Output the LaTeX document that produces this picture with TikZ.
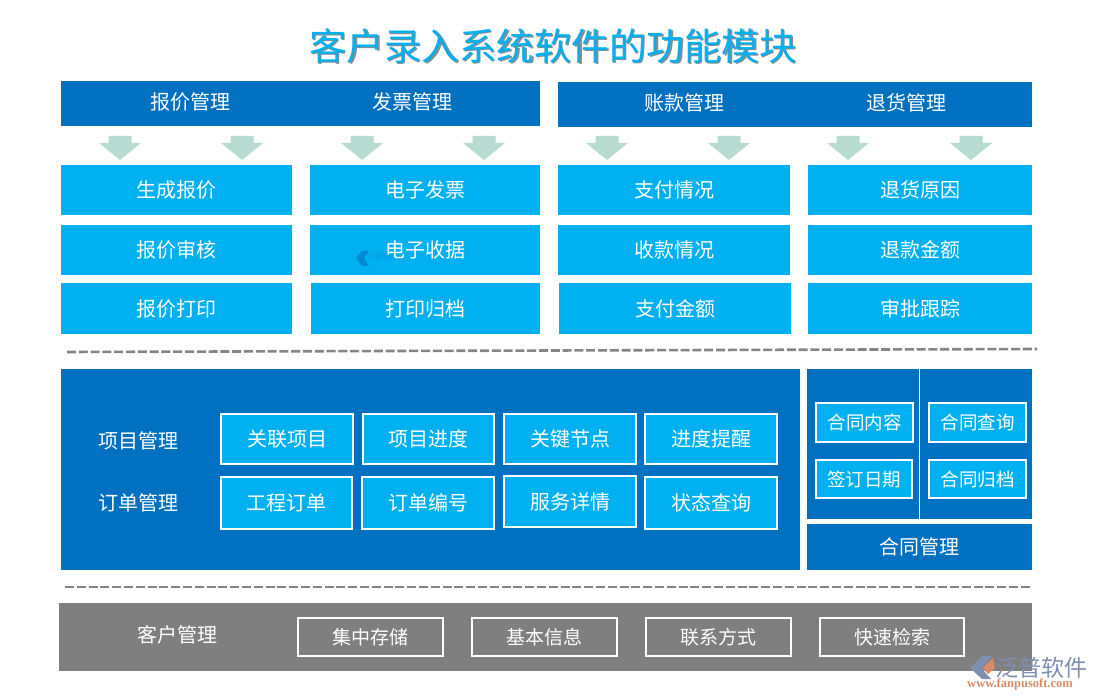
\documentclass[tikz,border=0pt]{standalone}
\usepackage{fontspec}
\setmainfont{Noto Sans CJK SC}
\newfontfamily\latinf{Liberation Serif}
\definecolor{deepblue}{HTML}{0070C0}
\definecolor{skyblue}{HTML}{00B0F0}
\definecolor{arrowgreen}{HTML}{B7DBD0}
\definecolor{midgray}{HTML}{7F7F7F}
\definecolor{dashgray}{HTML}{858585}
\definecolor{logoblue}{HTML}{7F8FB0}
\definecolor{logoorange}{HTML}{D98A68}
\tikzset{
  flat/.style={inner sep=0pt,outer sep=0pt,text=white,font=\fontsize{20}{24}\selectfont,anchor=north west},
  deep/.style={flat,fill=deepblue},
  sky/.style={flat,fill=skyblue},
  gray box/.style={flat,fill=midgray},
  framed/.style={flat,fill=skyblue,draw=white,line width=1.2pt},
  outlined/.style={flat,draw=white,line width=1.2pt,font=\fontsize{19}{23}\selectfont},
  caption/.style={inner sep=0pt,text=white,font=\fontsize{20}{24}\selectfont},
  small/.style={font=\fontsize{18.5}{22}\selectfont},
  dashrule/.style={draw=dashgray,line width=2.6pt,dash pattern=on 9pt off 2.8pt},
  downarrow/.style={fill=arrowgreen,draw=none},
}
\newcommand{\bx}[7][]{%
  \pgfmathsetlengthmacro{\bw}{#5-#3}\pgfmathsetlengthmacro{\bh}{#6-#4}%
  \node[#1,minimum width=\bw,minimum height=\bh] (#2) at (#3,#4) {#7};}
\newcommand{\darrow}[2]{%
  \fill[downarrow] (#1-11.5,#2) -- (#1+11.5,#2) -- (#1+11.5,#2+7) -- (#1+21,#2+7)
    -- (#1,#2+24) -- (#1-21,#2+7) -- (#1-11.5,#2+7) -- cycle;}
\begin{document}
\begin{tikzpicture}[x=1pt,y=-1pt]
\useasboundingbox (0,0) rectangle (1100,700);
\fill[white] (0,0) rectangle (1100,700);
% title
\node[inner sep=0pt,text=black!45,font=\fontsize{37.5}{42}\selectfont] (titleshadow) at (554.5,47.5) {客户录入系统软件的功能模块};
\node[inner sep=0pt,text=skyblue,font=\fontsize{37.5}{42}\selectfont] (title) at (553,46) {客户录入系统软件的功能模块};
% headers
\bx[deep]{headL}{61}{81}{540}{126}{}
\bx[deep]{headR}{558}{82}{1032}{127}{}
\node[caption] (h1) at (190,102) {报价管理};
\node[caption] (h2) at (412,102) {发票管理};
\node[caption] (h3) at (684,103) {账款管理};
\node[caption] (h4) at (906,103) {退货管理};
% arrows
\darrow{120}{136}\darrow{242}{136}\darrow{362}{136}\darrow{484}{136}
\darrow{607}{136}\darrow{729}{136}\darrow{848}{136}\darrow{971}{136}
% function boxes
\bx[sky]{a1}{61}{165}{292}{215}{生成报价}
\bx[sky]{a2}{61}{225}{292}{275}{报价审核}
\bx[sky]{a3}{61}{283}{292}{334}{报价打印}
\bx[sky]{b1}{310}{165}{540}{215}{电子发票}
\bx[sky]{b2}{310}{225}{540}{275}{}
\bx[sky]{b3}{311}{283}{540}{334}{打印归档}
\bx[sky]{c1}{558}{165}{790}{215}{支付情况}
\bx[sky]{c2}{558}{225}{790}{275}{收款情况}
\bx[sky]{c3}{559}{283}{791}{334}{支付金额}
\bx[sky]{d1}{808}{165}{1032}{215}{退货原因}
\bx[sky]{d2}{808}{225}{1032}{275}{退款金额}
\bx[sky]{d3}{808}{283}{1032}{334}{审批跟踪}
% watermark
\fill[deepblue!60!skyblue] (356,258) -- (362,251) -- (369,251) -- (364,258) -- (369,266) -- (362,266) -- cycle;
\node[inner sep=0pt,text=deepblue!35!skyblue,font=\fontsize{8}{9}\selectfont] (wm) at (382,256) {泛普软件};
\node[caption] (b2t) at (b2) {电子收据};
% dashed rules
\coordinate (r1a) at (67,352); \coordinate (r1b) at (1037,349);
\coordinate (r2a) at (65,587); \coordinate (r2b) at (1032,587);
\draw[dashrule] (r1a) -- (r1b);
\draw[dashrule] (r2a) -- (r2b);
% project panel
\bx[deep]{panel}{61}{369}{800}{570}{}
\node[caption] (pm) at (138,441) {项目管理};
\node[caption] (om) at (138,503) {订单管理};
\bx[framed]{p1}{221}{414}{353}{464}{关联项目}
\bx[framed]{p2}{363}{414}{494}{464}{项目进度}
\bx[framed]{p3}{504}{414}{636}{464}{关键节点}
\bx[framed]{p4}{645}{414}{777}{464}{进度提醒}
\bx[framed]{o1}{221}{477}{352}{529}{工程订单}
\bx[framed]{o2}{362}{477}{494}{529}{订单编号}
\bx[framed]{o3}{504}{476}{636}{527}{服务详情}
\bx[framed]{o4}{645}{477}{777}{529}{状态查询}
% contract panel
\bx[deep]{cpanel}{807}{369}{1032}{519}{}
\coordinate (cv1) at (919.5,369); \coordinate (cv2) at (919.5,519);
\draw[white,line width=1.2pt] (cv1) -- (cv2);
\bx[framed,small]{k1}{816}{403}{913}{442}{合同内容}
\bx[framed,small]{k2}{929}{403}{1026}{442}{合同查询}
\bx[framed,small]{k3}{816}{460}{912}{498}{签订日期}
\bx[framed,small]{k4}{929}{460}{1026}{498}{合同归档}
\bx[deep]{cname}{807}{524}{1032}{570}{合同管理}
% customer band
\bx[gray box]{band}{59}{603}{1032}{671}{}
\node[caption] (cm) at (177,635) {客户管理};
\bx[outlined]{s1}{298}{618}{443}{656}{集中存储}
\bx[outlined]{s2}{472}{618}{617}{656}{基本信息}
\bx[outlined]{s3}{646}{618}{791}{656}{联系方式}
\bx[outlined]{s4}{820}{618}{964}{656}{快速检索}
% logo
\fill[logoblue] (970,668) -- (982,656) -- (992,656) -- (981,668) -- (991,679) -- (982,679) -- cycle;
\fill[logoorange] (982,668) -- (993,658) -- (995,668) -- (988,674) -- cycle;
\node[inner sep=0pt,text=logoblue,font=\fontsize{23}{26}\selectfont] (logo) at (1041,668) {泛普软件};
\node[inner sep=0pt,text=logoorange,font=\latinf\bfseries\fontsize{12.5}{14}\selectfont] (url) at (1020,684) {www.fanpusoft.com};
\end{tikzpicture}
\end{document}
